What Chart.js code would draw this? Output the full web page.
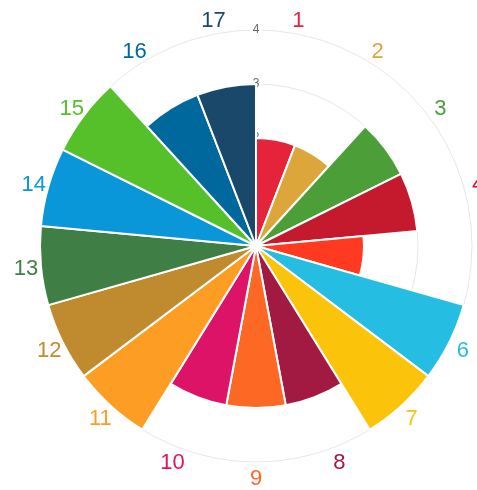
<!DOCTYPE html>
<html>
<head>
<meta charset="utf-8">
<script src="https://cdn.jsdelivr.net/npm/chart.js@4"></script>
<style>
  html, body { margin: 0; padding: 0; background: #fff; overflow: hidden; }
  #box { width: 481px; height: 490px; }
</style>
</head>
<body>
<div id="box"><canvas id="sdg"></canvas></div>
<script>
// goals 1..17
const goals = ['1','2','3','4','5','6','7','8','9','10','11','12','13','14','15','16','17'];
const scores = [2, 2, 3, 3, 2, 4, 4, 3, 3, 3, 4, 4, 4, 4, 4, 3, 3];
const goalColors = ['#E5243B','#DDA63A','#4C9F38','#C5192D','#FF3A21','#26BDE2','#FCC30B','#A21942',
                    '#FD6925','#DD1367','#FD9D24','#BF8B2E','#3F7E44','#0A97D9','#56C02B','#00689D','#19486A'];
const scaleMax = 4;

// labels sit centred on each wedge, a bit outside the outer ring
const goalLabels = {
    id: 'goalLabels',
    afterDatasetsDraw(chart) {
        const r = chart.scales.r;
        const c = chart.ctx;
        const half = Math.PI / goals.length;
        c.save();
        c.font = '22px "Liberation Sans", Arial, sans-serif';
        c.textAlign = 'center';
        c.textBaseline = 'middle';
        goals.forEach((g, i) => {
            const p = r.getPointPosition(i, r.drawingArea + 15, half);
            c.fillStyle = goalColors[i];
            c.fillText(g, p.x, p.y + 2);
        });
        c.restore();
    }
};

var ctx = document.getElementById("sdg").getContext("2d");
var myChart = new Chart(ctx, {
    type: "polarArea",
    data: {
        labels: goals,
        datasets: [{
            data: scores,
            backgroundColor: goalColors,
            borderColor: '#fff',
            borderWidth: 2
        }]
    },
    options: {
        responsive: true,
        maintainAspectRatio: false,
        animation: false,
        layout: { padding: { left: 32, right: 0, top: 22, bottom: 20 } },
        plugins: {
            legend: { display: false },
            tooltip: { enabled: false }
        },
        scales: {
            r: {
                min: 0,
                max: scaleMax,
                ticks: {
                    stepSize: 1,
                    color: '#666',
                    font: { size: 12 }
                },
                grid: { color: 'rgba(0,0,0,0.1)' },
                pointLabels: { display: false }
            }
        }
    },
    plugins: [goalLabels]
});
</script>
</body>
</html>
